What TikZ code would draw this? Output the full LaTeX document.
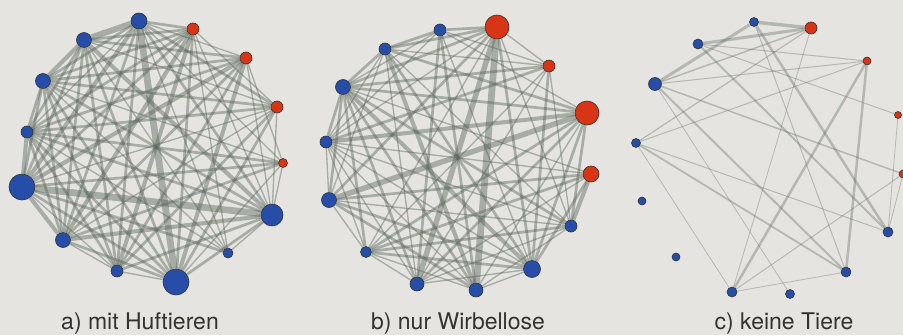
\documentclass[tikz,border=0pt]{standalone}
\usepackage{fontspec}
\setmainfont{TeX Gyre Heros}
\usepackage{xcolor}
\usepackage{tikz}
\usetikzlibrary{backgrounds}

\definecolor{paper}{RGB}{229,228,224}
\definecolor{spblue}{RGB}{38,78,168}
\definecolor{spred}{RGB}{216,52,22}
\definecolor{linkgray}{RGB}{92,104,92}

\pgfdeclarelayer{paperlayer}
\pgfsetlayers{paperlayer,background,main}

\tikzset{
  species/.style={circle, draw=black!80, line width=0.6pt, inner sep=0pt},
  bnode/.style={species, fill=spblue},
  rnode/.style={species, fill=spred},
  link/.style={draw=linkgray, draw opacity=0.45, line cap=butt},
  caption/.style={anchor=base, font=\fontsize{23}{26}\selectfont, text=black!80}
}

\begin{document}
\begin{tikzpicture}[x=1pt, y=-1pt]
    \useasboundingbox (0,0) rectangle (903,335);
    \begin{pgfonlayer}{paperlayer}
      \fill[paper] (0,0) rectangle (903,335);
    \end{pgfonlayer}
    \clip (0,0) rectangle (903,335);

    % Panel a: mit Huftieren
    \node[bnode, minimum size=16] (a1) at (139,21) {};
    \node[rnode, minimum size=12] (a2) at (193,29) {};
    \node[rnode, minimum size=12] (a3) at (246,58) {};
    \node[rnode, minimum size=12] (a4) at (277,107) {};
    \node[rnode, minimum size=9] (a5) at (283,163) {};
    \node[bnode, minimum size=22] (a6) at (272,215) {};
    \node[bnode, minimum size=10] (a7) at (228,253) {};
    \node[bnode, minimum size=26] (a8) at (176,282) {};
    \node[bnode, minimum size=12] (a9) at (117,271) {};
    \node[bnode, minimum size=15] (a10) at (63,240) {};
    \node[bnode, minimum size=26] (a11) at (22,187) {};
    \node[bnode, minimum size=12] (a12) at (27,132) {};
    \node[bnode, minimum size=15] (a13) at (43,81) {};
    \node[bnode, minimum size=15] (a14) at (84,40) {};
    \begin{pgfonlayer}{background}
      \foreach \i/\j/\w in {1/2/2, 1/14/4.5, 1/13/2, 1/12/1, 1/11/3, 1/10/2, 1/9/2, 1/8/5, 1/7/1, 1/6/2, 1/5/1, 1/4/2, 1/3/1,
          2/14/2, 2/13/2, 2/12/2, 2/11/2, 2/10/3, 2/9/3, 2/8/2, 2/7/1, 2/6/1, 2/4/1,
          3/14/2, 3/13/2, 3/12/2, 3/11/3, 3/10/2, 3/9/2, 3/8/3, 3/6/1, 3/5/1,
          4/14/1, 4/13/2, 4/12/2, 4/11/1, 4/10/1, 4/9/2, 4/8/2, 4/6/1,
          5/13/1, 5/12/2, 5/11/2, 5/10/2, 5/8/1, 5/6/1,
          6/14/3, 6/13/2, 6/12/2, 6/11/5, 6/10/3, 6/9/2, 6/8/2, 6/7/1,
          7/14/1, 7/13/1, 7/12/1, 7/11/2,
          8/14/2, 8/13/2, 8/12/2, 8/11/2, 8/10/2, 8/9/1,
          9/14/2, 9/13/2, 9/12/2, 9/11/1, 9/10/1,
          10/14/2, 10/13/2, 10/12/2, 10/11/3,
          11/14/2, 11/13/2, 11/12/3,
          12/14/2, 12/13/2,
          13/14/3}
        \draw[link, line width={1.35*\w pt}] (a\i) -- (a\j);
    \end{pgfonlayer}
    \node[caption] (capA) at (140,329) {a) mit Huftieren};

    % Panel b: nur Wirbellose
    \node[bnode, minimum size=12] (b1) at (440,30) {};
    \node[rnode, minimum size=24] (b2) at (497,27) {};
    \node[rnode, minimum size=12] (b3) at (549,66) {};
    \node[rnode, minimum size=24] (b4) at (587,113) {};
    \node[rnode, minimum size=16] (b5) at (591,174) {};
    \node[bnode, minimum size=12] (b6) at (571,226) {};
    \node[bnode, minimum size=17] (b7) at (532,269) {};
    \node[bnode, minimum size=14] (b8) at (476,290) {};
    \node[bnode, minimum size=14] (b9) at (417,284) {};
    \node[bnode, minimum size=11] (b10) at (366,252) {};
    \node[bnode, minimum size=15] (b11) at (329,200) {};
    \node[bnode, minimum size=12] (b12) at (326,142) {};
    \node[bnode, minimum size=15] (b13) at (343,87) {};
    \node[bnode, minimum size=12] (b14) at (385,49) {};
    \begin{pgfonlayer}{background}
      \foreach \i/\j/\w in {2/1/2, 2/14/2, 2/13/2, 2/12/1, 2/11/2, 2/10/1, 2/9/4, 2/8/5, 2/7/2, 2/6/1, 2/3/1,
          1/14/2, 1/13/1, 1/12/1, 1/9/2, 1/8/2, 1/7/1, 1/4/1, 1/3/1,
          3/14/1, 3/13/2, 3/12/2, 3/10/1, 3/9/1, 3/7/2, 3/6/1,
          4/14/2, 4/13/2, 4/12/3, 4/11/4, 4/10/2, 4/9/2, 4/8/1, 4/7/2, 4/6/2,
          5/13/1, 5/12/1, 5/11/2, 5/10/2, 5/9/1, 5/7/2, 5/6/3,
          6/14/1, 6/13/2, 6/12/1, 6/11/1, 6/10/2, 6/9/1, 6/8/1,
          7/14/2, 7/13/3, 7/12/1, 7/11/2, 7/10/2, 7/9/1, 7/8/1,
          8/14/3, 8/13/2, 8/12/1, 8/11/2, 8/10/1,
          9/14/1, 9/13/2, 9/12/1, 9/10/1,
          10/13/2, 10/12/1, 10/11/1,
          11/14/1, 11/13/2, 11/12/1,
          12/14/1, 12/13/2,
          13/14/2}
        \draw[link, line width={1.35*\w pt}] (b\i) -- (b\j);
    \end{pgfonlayer}
    \node[caption] (capB) at (458,329) {b) nur Wirbellose};

    % Panel c: keine Tiere
    \node[bnode, minimum size=9] (c1) at (754,22) {};
    \node[rnode, minimum size=12] (c2) at (811,28) {};
    \node[rnode, minimum size=8] (c3) at (867,61) {};
    \node[rnode, minimum size=7] (c4) at (898,115) {};
    \node[rnode, minimum size=8] (c5) at (903,174) {};
    \node[bnode, minimum size=10] (c6) at (888,232) {};
    \node[bnode, minimum size=10] (c7) at (846,272) {};
    \node[bnode, minimum size=9] (c8) at (790,294) {};
    \node[bnode, minimum size=10] (c9) at (732,292) {};
    \node[bnode, minimum size=8] (c10) at (676,257) {};
    \node[bnode, minimum size=8] (c11) at (642,201) {};
    \node[bnode, minimum size=9] (c12) at (636,143) {};
    \node[bnode, minimum size=13] (c13) at (655,84) {};
    \node[bnode, minimum size=10] (c14) at (698,44) {};
    \begin{pgfonlayer}{background}
      \foreach \i/\j/\w in {1/2/3.5, 14/2/3, 13/1/3, 13/2/1.5, 13/3/1, 14/3/1, 14/4/1, 14/6/2, 1/6/2.5, 1/7/1,
          13/5/1.5, 13/7/2, 13/8/0.8, 12/2/1.2, 12/3/1, 12/6/1, 12/7/1.8, 12/9/0.8,
          2/9/0.8, 3/9/2.5, 3/7/2.5, 4/6/0.8, 5/9/1, 5/6/0.8, 9/7/0.8}
        \draw[link, draw opacity=0.35, line width=\w pt] (c\i) -- (c\j);
    \end{pgfonlayer}
    \node[caption] (capC) at (784,329) {c) keine Tiere};
\end{tikzpicture}
\end{document}
